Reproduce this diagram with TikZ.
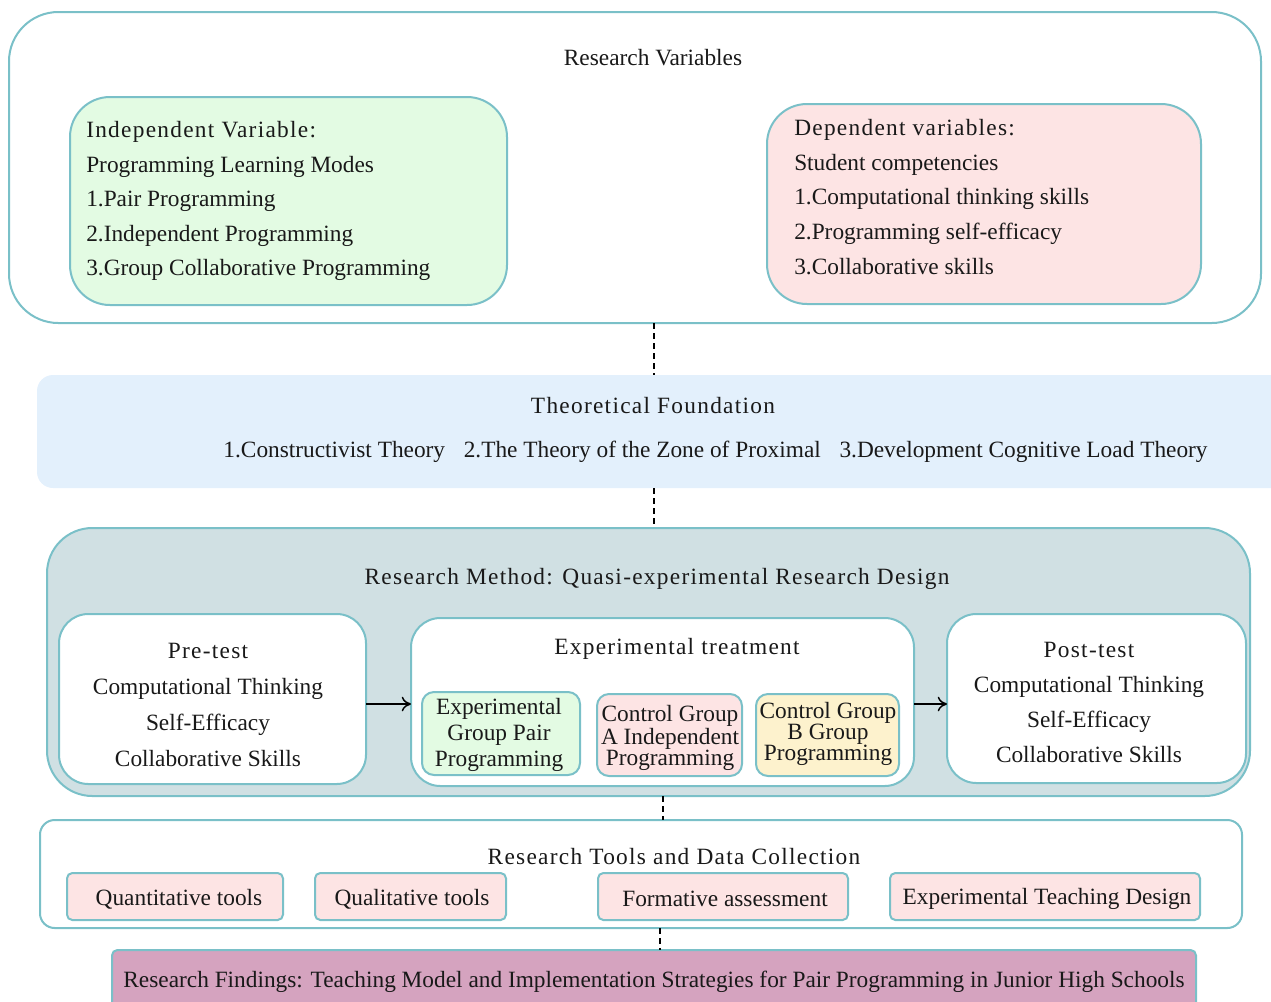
\documentclass[tikz,border=0pt]{standalone}
\usepackage{fontspec}
\setmainfont{Liberation Serif}
\usetikzlibrary{arrows.meta}
\definecolor{bd}{RGB}{122,192,200}
\definecolor{gfill}{RGB}{227,251,227}
\definecolor{pfill}{RGB}{253,228,228}
\definecolor{bfill}{RGB}{227,240,252}
\definecolor{mfill}{RGB}{208,224,227}
\definecolor{yfill}{RGB}{253,242,205}
\definecolor{ffill}{RGB}{213,163,191}
\definecolor{txt}{RGB}{25,25,25}
\newcommand{\hdrfont}{\addfontfeature{LetterSpace=5.5}}
\begin{document}
\begin{tikzpicture}[x=0.75pt,y=-0.75pt,
  every node/.style={text=txt},
  frame/.style={draw=bd, line width=1.5pt, anchor=north west, inner sep=0pt, outer sep=0pt},
  txtf/.style={inner sep=0pt, font=\fontsize{17.5pt}{21pt}\selectfont},
  hdr/.style={inner sep=0pt, font=\fontsize{17.5pt}{21pt}\selectfont\hdrfont},
  dline/.style={draw=black, line width=1.1pt, dash pattern=on 4.5pt off 3pt},
  arr/.style={draw=black, line width=1.1pt, -{To[length=7pt,width=11pt]}}
]
\useasboundingbox (0,0) rectangle (1271,1001);

% Research variables
\node[frame, fill=white, rounded corners=37pt, minimum width=939pt, minimum height=233.25pt] (rv) at (9,12) {};
\node[txtf] (rvt) at (653,58) {Research Variables};
\node[frame, fill=gfill, rounded corners=30pt, minimum width=327.75pt, minimum height=156pt] (iv) at (70,97) {};
\node[txtf, anchor=west, align=left, font=\fontsize{17.5pt}{25.9pt}\selectfont] (ivt) at (86,201)
  {{\hdrfont Independent Variable:}\\Programming Learning Modes\\1.Pair Programming\\2.Independent Programming\\3.Group Collaborative Programming};
\node[frame, fill=pfill, rounded corners=30pt, minimum width=325.5pt, minimum height=150pt] (dv) at (767,104) {};
\node[txtf, anchor=west, align=left, font=\fontsize{17.5pt}{25.9pt}\selectfont] (dvt) at (794,197)
  {{\hdrfont Dependent variables:}\\Student competencies\\1.Computational thinking skills\\2.Programming self-efficacy\\3.Collaborative skills};

% Theoretical foundation
\node[frame, draw=none, fill=bfill, rounded corners=12pt, minimum width=939.75pt, minimum height=84.75pt] (tf) at (37,375) {};
\node[hdr] (tft) at (653,406) {Theoretical Foundation};
\node[txtf] (tfl) at (715.5,452) {1.Constructivist Theory\hspace{14pt}2.The Theory of the Zone of Proximal\hspace{14pt}3.Development Cognitive Load Theory};

% Research method
\node[frame, fill=mfill, rounded corners=34pt, minimum width=902.25pt, minimum height=201pt] (rm) at (47,528) {};
\node[hdr] (rmt) at (657,579) {Research Method: Quasi-experimental Research Design};
\node[frame, fill=white, rounded corners=22pt, minimum width=230.25pt, minimum height=127.5pt] (pre) at (59,614) {};
\node[txtf, align=center, font=\fontsize{17.5pt}{27pt}\selectfont] (pret) at (208,705)
  {{\hdrfont Pre-test}\\Computational Thinking\\Self-Efficacy\\Collaborative Skills};
\node[frame, fill=white, rounded corners=22pt, minimum width=377.25pt, minimum height=126pt] (exp) at (411,618) {};
\node[hdr] (expt) at (677,649) {Experimental treatment};
\node[frame, fill=gfill, rounded corners=9pt, minimum width=118.5pt, minimum height=62.25pt] (sg) at (422,692) {};
\node[txtf, align=center, font=\fontsize{17.5pt}{19.5pt}\selectfont] (sgt) at (499,735) {Experimental\\Group Pair\\Programming};
\node[frame, fill=pfill, rounded corners=9pt, minimum width=108.75pt, minimum height=61.5pt] (sp) at (597,694) {};
\node[txtf, align=center, font=\fontsize{17.5pt}{15.75pt}\selectfont] (spt) at (670,738) {Control Group\\A Independent\\Programming};
\node[frame, fill=yfill, rounded corners=9pt, minimum width=107.25pt, minimum height=61.5pt] (sy) at (756,694) {};
\node[txtf, align=center, font=\fontsize{17.5pt}{15.75pt}\selectfont] (syt) at (828,734) {Control Group\\B Group\\Programming};
\node[frame, fill=white, rounded corners=22pt, minimum width=224.25pt, minimum height=126.75pt] (post) at (947,614) {};
\node[txtf, align=center, font=\fontsize{17.5pt}{26.25pt}\selectfont] (postt) at (1089,702)
  {{\hdrfont Post-test}\\Computational Thinking\\Self-Efficacy\\Collaborative Skills};
\draw[arr] (pre.east |- 0,704) -- (exp.west |- 0,704);
\draw[arr] (exp.east |- 0,704) -- (post.west |- 0,704);

% Research tools
\node[frame, fill=white, rounded corners=11pt, minimum width=901.5pt, minimum height=81pt] (tools) at (40,820) {};
\node[hdr] (toolst) at (674,857) {Research Tools and Data Collection};
\node[frame, fill=pfill, rounded corners=4pt, minimum width=162pt, minimum height=35.25pt] (t1) at (67,873) {};
\node[txtf] (t1t) at (179,899) {Quantitative tools};
\node[frame, fill=pfill, rounded corners=4pt, minimum width=143.25pt, minimum height=35.25pt] (t2) at (315,873) {};
\node[txtf] (t2t) at (412,899) {Qualitative tools};
\node[frame, fill=pfill, rounded corners=4pt, minimum width=187.5pt, minimum height=35.25pt] (t3) at (598,873) {};
\node[txtf] (t3t) at (725,899) {Formative assessment};
\node[frame, fill=pfill, rounded corners=4pt, minimum width=232.5pt, minimum height=35.25pt] (t4) at (890,873) {};
\node[txtf] (t4t) at (1047,899) {Experimental Teaching Design};

% Findings
\node[frame, fill=ffill, rounded corners=4pt, minimum width=813pt, minimum height=45pt] (fd) at (112,950) {};
\node[txtf] (fdt) at (654,982) {Research Findings: Teaching Model and Implementation Strategies for Pair Programming in Junior High Schools};

% dashed connectors
\draw[dline] (rv.south -| 654,0) -- (tf.north -| 654,0);
\draw[dline] (tf.south -| 654,0) -- (rm.north -| 654,0);
\draw[dline] (rm.south -| 663,0) -- (tools.north -| 663,0);
\draw[dline] (tools.south -| 660,0) -- (fd.north -| 660,0);
\end{tikzpicture}
\end{document}
